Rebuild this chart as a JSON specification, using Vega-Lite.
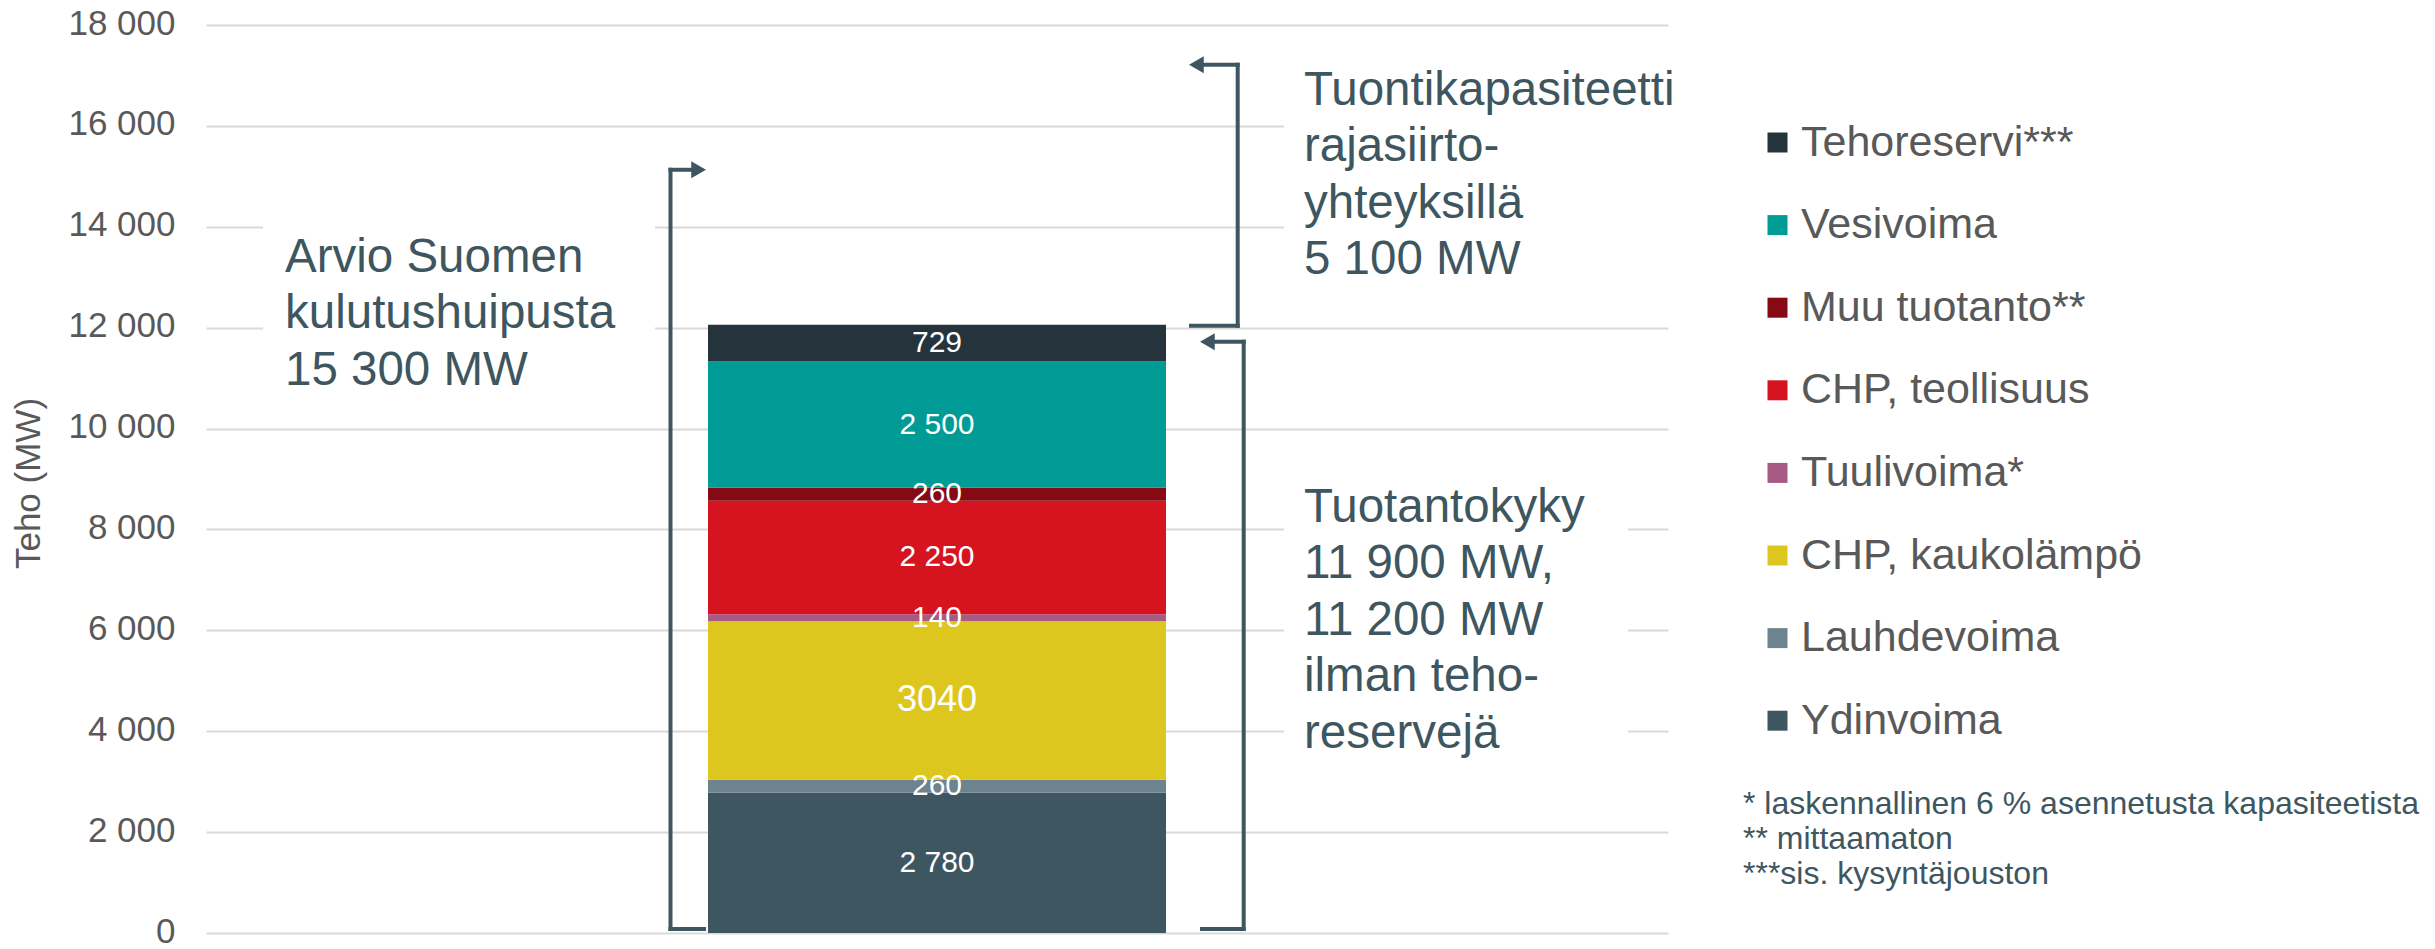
{
  "$schema": "https://vega.github.io/schema/vega-lite/v6.json",
  "width": 1462,
  "height": 908,
  "autosize": {"type": "none"},
  "padding": {"left": 206, "top": 25, "right": 767, "bottom": 16},
  "background": "#ffffff",
  "config": {"view": {"stroke": null}, "font": "Liberation Sans"},
  "title": {
    "text": ["* laskennallinen 6 % asennetusta kapasiteetista", "** mittaamaton", "***sis. kysyntäjouston"],
    "orient": "bottom", "anchor": "start", "frame": "group", "align": "left",
    "offset": 0, "dx": 1537, "dy": -160,
    "fontSize": 32, "fontWeight": "normal", "color": "#3e5660", "lineHeight": 34.8, "font": "Liberation Sans"
  },
  "datasets": {
    "tuotanto": [
      {"sarake": "Kapasiteetti", "lahde": "Ydinvoima", "MW": 2780, "nimi": "2 780", "jarj": 1},
      {"sarake": "Kapasiteetti", "lahde": "Lauhdevoima", "MW": 260, "nimi": "260", "jarj": 2},
      {"sarake": "Kapasiteetti", "lahde": "CHP, kaukolämpö", "MW": 3140, "nimi": "3040", "jarj": 3},
      {"sarake": "Kapasiteetti", "lahde": "Tuulivoima*", "MW": 140, "nimi": "140", "jarj": 4},
      {"sarake": "Kapasiteetti", "lahde": "CHP, teollisuus", "MW": 2250, "nimi": "2 250", "jarj": 5},
      {"sarake": "Kapasiteetti", "lahde": "Muu tuotanto**", "MW": 260, "nimi": "260", "jarj": 6},
      {"sarake": "Kapasiteetti", "lahde": "Vesivoima", "MW": 2500, "nimi": "2 500", "jarj": 7},
      {"sarake": "Kapasiteetti", "lahde": "Tehoreservi***", "MW": 729, "nimi": "729", "jarj": 8}
    ],
    "haarukat": [
      {"haarukka": "Kulutushuippu", "ala": 0, "yla": 15130, "teksti": "Arvio Suomen\nkulutushuipusta\n15 300 MW"},
      {"haarukka": "Tuonti", "ala": 12040, "yla": 17210, "teksti": "Tuontikapasiteetti\nrajasiirto-\nyhteyksillä\n5 100 MW"},
      {"haarukka": "Tuotantokyky", "ala": 0, "yla": 11720, "teksti": "Tuotantokyky\n11 900 MW,\n11 200 MW\nilman teho-\nreservejä"}
    ]
  },
  "layer": [
    {
      "data": {"name": "tuotanto"},
      "mark": {"type": "bar", "width": 458},
      "encoding": {
        "x": {"field": "sarake", "type": "nominal", "axis": null, "scale": {"paddingInner": 0, "paddingOuter": 1.096}},
        "y": {
          "field": "MW", "type": "quantitative", "stack": "zero", "title": "Teho (MW)",
          "scale": {"domain": [0, 18000], "nice": false},
          "axis": {
            "values": [0, 2000, 4000, 6000, 8000, 10000, 12000, 14000, 16000, 18000],
            "labelExpr": "replace(format(datum.value, ','), ',', ' ')",
            "labelFontSize": 35, "labelColor": "#595959", "labelFont": "Liberation Sans", "labelPadding": 31, "labelOffset": -2,
            "ticks": false, "domain": false, "grid": true, "gridColor": "#d9d9d9", "gridWidth": 2,
            "title": "Teho (MW)", "titleFontSize": 35, "titleFontWeight": "normal", "titleColor": "#595959",
            "titleFont": "Liberation Sans", "titleAngle": -90, "titleX": -178, "titleY": 458, "titleBaseline": "middle", "titleAlign": "center"
          }
        },
        "color": {
          "field": "lahde", "type": "nominal",
          "scale": {
            "domain": ["Tehoreservi***", "Vesivoima", "Muu tuotanto**", "CHP, teollisuus", "Tuulivoima*", "CHP, kaukolämpö", "Lauhdevoima", "Ydinvoima"],
            "range": ["#25343c", "#009b95", "#860a14", "#d51420", "#a65a84", "#ddc71f", "#6d8390", "#3e5660"]
          },
          "legend": {
            "title": null, "orient": "none", "legendX": 1550, "legendY": 96, "padding": 0,
            "symbolType": "square", "symbolSize": 400, "symbolStrokeWidth": 0, "symbolOpacity": 1,
            "labelFontSize": 43, "labelColor": "#595959", "labelFont": "Liberation Sans", "labelOffset": 2,
            "rowPadding": 38.6, "labelLimit": 600
          }
        },
        "order": {"field": "jarj", "type": "quantitative", "sort": "ascending"}
      }
    },
    {
      "data": {"name": "tuotanto"},
      "mark": {"type": "text", "color": "#ffffff", "baseline": "middle", "align": "center", "font": "Liberation Sans"},
      "encoding": {
        "x": {"field": "sarake", "type": "nominal", "axis": null},
        "y": {"field": "MW", "type": "quantitative", "stack": "zero", "bandPosition": 0.5, "title": "Teho (MW)"},
        "detail": {"field": "lahde"},
        "order": {"field": "jarj", "type": "quantitative", "sort": "ascending"},
        "text": {"field": "nimi"},
        "size": {"condition": {"test": "datum.lahde === 'CHP, kaukolämpö'", "value": 36}, "value": 30}
      }
    },
    {
      "data": {"name": "haarukat"},
      "transform": [{"filter": "datum.haarukka === 'Kulutushuippu'"}],
      "mark": {"type": "bar", "width": 392, "xOffset": -478, "yOffset": 20, "y2Offset": 230, "color": "#ffffff"},
      "encoding": {
        "x": {"datum": "Kapasiteetti", "type": "nominal", "axis": null},
        "y": {"field": "yla", "type": "quantitative", "title": "Teho (MW)"},
        "y2": {"field": "yla"}
      }
    },
    {
      "data": {"name": "haarukat"},
      "transform": [{"filter": "datum.haarukka === 'Tuonti'"}],
      "mark": {"type": "bar", "width": 396, "xOffset": 545, "yOffset": -5, "y2Offset": 235, "color": "#ffffff"},
      "encoding": {
        "x": {"datum": "Kapasiteetti", "type": "nominal", "axis": null},
        "y": {"field": "yla", "type": "quantitative", "title": "Teho (MW)"},
        "y2": {"field": "yla"}
      }
    },
    {
      "data": {"name": "haarukat"},
      "transform": [{"filter": "datum.haarukka === 'Tuotantokyky'"}],
      "mark": {"type": "bar", "width": 344, "xOffset": 519, "yOffset": 128, "y2Offset": 448, "color": "#ffffff"},
      "encoding": {
        "x": {"datum": "Kapasiteetti", "type": "nominal", "axis": null},
        "y": {"field": "yla", "type": "quantitative", "title": "Teho (MW)"},
        "y2": {"field": "yla"}
      }
    },
    {
      "data": {"name": "haarukat"},
      "transform": [{"filter": "datum.haarukka === 'Kulutushuippu'"}],
      "mark": {"type": "rule", "xOffset": -266.5, "yOffset": -4, "strokeWidth": 4, "strokeCap": "square", "color": "#3e5660"},
      "encoding": {
        "x": {"datum": "Kapasiteetti", "type": "nominal", "axis": null},
        "y": {"field": "ala", "type": "quantitative", "title": "Teho (MW)"},
        "y2": {"field": "yla"}
      }
    },
    {
      "data": {"name": "haarukat"},
      "transform": [{"filter": "datum.haarukka === 'Kulutushuippu'"}],
      "mark": {"type": "tick", "orient": "horizontal", "size": 37.5, "thickness": 4, "xOffset": -249.75, "yOffset": -4, "color": "#3e5660", "opacity": 1},
      "encoding": {
        "x": {"datum": "Kapasiteetti", "type": "nominal", "axis": null},
        "y": {"field": "ala", "type": "quantitative", "title": "Teho (MW)"}
      }
    },
    {
      "data": {"name": "haarukat"},
      "transform": [{"filter": "datum.haarukka === 'Kulutushuippu'"}],
      "mark": {"type": "tick", "orient": "horizontal", "size": 31.5, "thickness": 4, "xOffset": -252.75, "color": "#3e5660", "opacity": 1},
      "encoding": {
        "x": {"datum": "Kapasiteetti", "type": "nominal", "axis": null},
        "y": {"field": "yla", "type": "quantitative", "title": "Teho (MW)"}
      }
    },
    {
      "data": {"name": "haarukat"},
      "transform": [{"filter": "datum.haarukka === 'Kulutushuippu'"}],
      "mark": {"type": "point", "shape": "triangle-right", "size": 289, "filled": true, "opacity": 1, "strokeWidth": 0, "xOffset": -238.4, "color": "#3e5660"},
      "encoding": {
        "x": {"datum": "Kapasiteetti", "type": "nominal", "axis": null},
        "y": {"field": "yla", "type": "quantitative", "title": "Teho (MW)"}
      }
    },
    {
      "data": {"name": "haarukat"},
      "transform": [{"filter": "datum.haarukka === 'Tuonti'"}],
      "mark": {"type": "rule", "xOffset": 300.7, "strokeWidth": 4, "strokeCap": "square", "color": "#3e5660"},
      "encoding": {
        "x": {"datum": "Kapasiteetti", "type": "nominal", "axis": null},
        "y": {"field": "ala", "type": "quantitative", "title": "Teho (MW)"},
        "y2": {"field": "yla"}
      }
    },
    {
      "data": {"name": "haarukat"},
      "transform": [{"filter": "datum.haarukka === 'Tuonti'"}],
      "mark": {"type": "tick", "orient": "horizontal", "size": 50.7, "thickness": 4, "xOffset": 277.35, "color": "#3e5660", "opacity": 1},
      "encoding": {
        "x": {"datum": "Kapasiteetti", "type": "nominal", "axis": null},
        "y": {"field": "ala", "type": "quantitative", "title": "Teho (MW)"}
      }
    },
    {
      "data": {"name": "haarukat"},
      "transform": [{"filter": "datum.haarukka === 'Tuonti'"}],
      "mark": {"type": "tick", "orient": "horizontal", "size": 44.7, "thickness": 4, "xOffset": 280.35, "color": "#3e5660", "opacity": 1},
      "encoding": {
        "x": {"datum": "Kapasiteetti", "type": "nominal", "axis": null},
        "y": {"field": "yla", "type": "quantitative", "title": "Teho (MW)"}
      }
    },
    {
      "data": {"name": "haarukat"},
      "transform": [{"filter": "datum.haarukka === 'Tuonti'"}],
      "mark": {"type": "point", "shape": "triangle-left", "size": 289, "filled": true, "opacity": 1, "strokeWidth": 0, "xOffset": 259.4, "color": "#3e5660"},
      "encoding": {
        "x": {"datum": "Kapasiteetti", "type": "nominal", "axis": null},
        "y": {"field": "yla", "type": "quantitative", "title": "Teho (MW)"}
      }
    },
    {
      "data": {"name": "haarukat"},
      "transform": [{"filter": "datum.haarukka === 'Tuotantokyky'"}],
      "mark": {"type": "rule", "xOffset": 306.7, "yOffset": -4, "strokeWidth": 4, "strokeCap": "square", "color": "#3e5660"},
      "encoding": {
        "x": {"datum": "Kapasiteetti", "type": "nominal", "axis": null},
        "y": {"field": "ala", "type": "quantitative", "title": "Teho (MW)"},
        "y2": {"field": "yla"}
      }
    },
    {
      "data": {"name": "haarukat"},
      "transform": [{"filter": "datum.haarukka === 'Tuotantokyky'"}],
      "mark": {"type": "tick", "orient": "horizontal", "size": 45.7, "thickness": 4, "xOffset": 285.85, "yOffset": -4, "color": "#3e5660", "opacity": 1},
      "encoding": {
        "x": {"datum": "Kapasiteetti", "type": "nominal", "axis": null},
        "y": {"field": "ala", "type": "quantitative", "title": "Teho (MW)"}
      }
    },
    {
      "data": {"name": "haarukat"},
      "transform": [{"filter": "datum.haarukka === 'Tuotantokyky'"}],
      "mark": {"type": "tick", "orient": "horizontal", "size": 39.7, "thickness": 4, "xOffset": 288.85, "color": "#3e5660", "opacity": 1},
      "encoding": {
        "x": {"datum": "Kapasiteetti", "type": "nominal", "axis": null},
        "y": {"field": "yla", "type": "quantitative", "title": "Teho (MW)"}
      }
    },
    {
      "data": {"name": "haarukat"},
      "transform": [{"filter": "datum.haarukka === 'Tuotantokyky'"}],
      "mark": {"type": "point", "shape": "triangle-left", "size": 289, "filled": true, "opacity": 1, "strokeWidth": 0, "xOffset": 270.4, "color": "#3e5660"},
      "encoding": {
        "x": {"datum": "Kapasiteetti", "type": "nominal", "axis": null},
        "y": {"field": "yla", "type": "quantitative", "title": "Teho (MW)"}
      }
    },
    {
      "data": {"name": "haarukat"},
      "transform": [{"filter": "datum.haarukka === 'Kulutushuippu'"}],
      "mark": {"type": "text", "align": "left", "baseline": "alphabetic", "lineBreak": "\n", "lineHeight": 56.5, "fontSize": 47.5, "font": "Liberation Sans", "color": "#3e5660", "dx": -652, "dy": 102},
      "encoding": {
        "x": {"datum": "Kapasiteetti", "type": "nominal", "axis": null},
        "y": {"field": "yla", "type": "quantitative", "title": "Teho (MW)"},
        "text": {"field": "teksti"}
      }
    },
    {
      "data": {"name": "haarukat"},
      "transform": [{"filter": "datum.haarukka === 'Tuonti'"}],
      "mark": {"type": "text", "align": "left", "baseline": "alphabetic", "lineBreak": "\n", "lineHeight": 56.5, "fontSize": 47.5, "font": "Liberation Sans", "color": "#3e5660", "dx": 367, "dy": 40},
      "encoding": {
        "x": {"datum": "Kapasiteetti", "type": "nominal", "axis": null},
        "y": {"field": "yla", "type": "quantitative", "title": "Teho (MW)"},
        "text": {"field": "teksti"}
      }
    },
    {
      "data": {"name": "haarukat"},
      "transform": [{"filter": "datum.haarukka === 'Tuotantokyky'"}],
      "mark": {"type": "text", "align": "left", "baseline": "alphabetic", "lineBreak": "\n", "lineHeight": 56.5, "fontSize": 47.5, "font": "Liberation Sans", "color": "#3e5660", "dx": 367, "dy": 180},
      "encoding": {
        "x": {"datum": "Kapasiteetti", "type": "nominal", "axis": null},
        "y": {"field": "yla", "type": "quantitative", "title": "Teho (MW)"},
        "text": {"field": "teksti"}
      }
    }
  ]
}
